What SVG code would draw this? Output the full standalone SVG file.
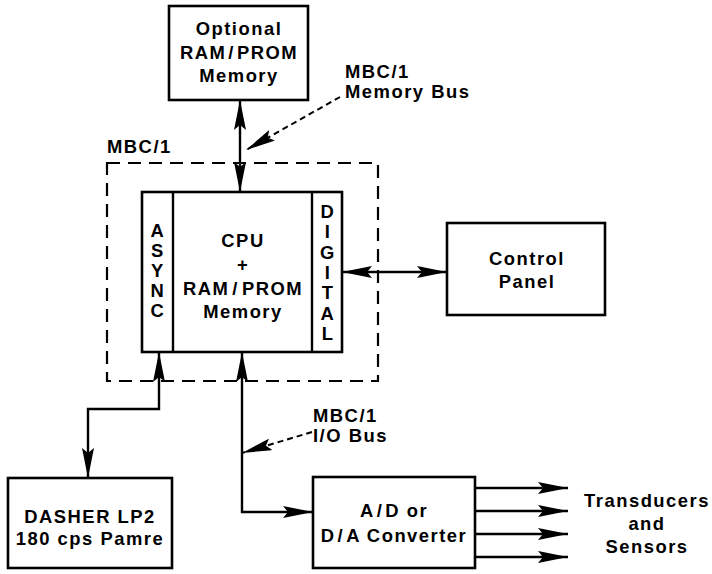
<svg xmlns="http://www.w3.org/2000/svg" width="712" height="574" viewBox="0 0 712 574">
  <style>
    .box { fill: #fff; stroke: #000; stroke-width: 2.6; }
    .frame { fill: none; stroke: #000; stroke-width: 2.2; stroke-dasharray: 13 8; }
    .wire { fill: none; stroke: #000; stroke-width: 2.4; }
    .ptr { fill: none; stroke: #000; stroke-width: 2; stroke-dasharray: 6 4; }
    text { font-family: "Liberation Sans", Arial, sans-serif; font-weight: bold; font-size: 18.4px; letter-spacing: 1.5px; fill: #000; }
    .c { text-anchor: middle; }
  </style>
  <defs>
    <marker id="head" viewBox="0 0 30 12" refX="30" refY="6" markerWidth="30" markerHeight="12" markerUnits="userSpaceOnUse" orient="auto-start-reverse">
      <path d="M0,0 L30,6 L0,12 L5,6 Z" fill="#000"/>
    </marker>
  </defs>

  <!-- MBC/1 board outline -->
  <g id="mbc1">
    <rect class="frame" x="107" y="163" width="271" height="218"/>
    <text x="107" y="153">MBC/1</text>
  </g>

  <g id="optional-memory">
    <rect class="box" x="169" y="6" width="139" height="94"/>
    <text class="c"><tspan x="239" y="35">Optional</tspan><tspan x="239" y="58.5">RAM<tspan dx="2">/</tspan><tspan dx="2">PROM</tspan></tspan><tspan x="239" y="82">Memory</tspan></text>
  </g>

  <g id="cpu">
    <rect class="box" x="142" y="192" width="200" height="160"/>
    <line class="wire" x1="173" y1="192" x2="173" y2="352"/>
    <line class="wire" x1="312" y1="192" x2="312" y2="352"/>
    <text class="c"><tspan x="243" y="247">CPU</tspan><tspan x="243" y="271">+</tspan><tspan x="243" y="295">RAM<tspan dx="3">/</tspan><tspan dx="3">PROM</tspan></tspan><tspan x="243" y="318">Memory</tspan></text>
  </g>

  <g id="async">
    <text class="c"><tspan x="158" y="237">A</tspan><tspan x="158" y="257">S</tspan><tspan x="158" y="277">Y</tspan><tspan x="158" y="297">N</tspan><tspan x="158" y="317">C</tspan></text>
  </g>

  <g id="digital">
    <text class="c"><tspan x="328" y="218">D</tspan><tspan x="328" y="238.3">I</tspan><tspan x="328" y="258.7">G</tspan><tspan x="328" y="279">I</tspan><tspan x="328" y="299.3">T</tspan><tspan x="328" y="319.7">A</tspan><tspan x="328" y="340">L</tspan></text>
  </g>

  <g id="control-panel">
    <rect class="box" x="447" y="223" width="158" height="92"/>
    <text class="c"><tspan x="527" y="265">Control</tspan><tspan x="527" y="288">Panel</tspan></text>
  </g>

  <g id="dasher">
    <rect class="box" x="8" y="478" width="164" height="90"/>
    <text class="c"><tspan x="90" y="523">DASHER LP2</tspan><tspan x="90" y="545">180 cps Pamre</tspan></text>
  </g>

  <g id="converter">
    <rect class="box" x="313" y="477" width="162" height="91"/>
    <text class="c"><tspan x="394" y="517">A<tspan dx="2">/</tspan><tspan dx="2">D or</tspan></tspan><tspan x="394" y="542">D<tspan dx="2">/</tspan><tspan dx="2">A Converter</tspan></tspan></text>
  </g>

  <g id="sensors">
    <text class="c"><tspan x="647" y="507">Transducers</tspan><tspan x="647" y="530">and</tspan><tspan x="647" y="553">Sensors</tspan></text>
  </g>

  <g id="memory-bus-label">
    <text><tspan x="345" y="77.5">MBC/1</tspan><tspan x="345" y="98">Memory Bus</tspan></text>
  </g>

  <g id="io-bus-label">
    <text><tspan x="313" y="422">MBC/1</tspan><tspan x="313" y="442">I/O Bus</tspan></text>
  </g>

  <g id="connectors">
    <!-- memory bus -->
    <line class="wire" x1="240" y1="100" x2="240" y2="192" marker-start="url(#head)" marker-end="url(#head)"/>
    <line class="ptr" x1="340" y1="97" x2="246" y2="150" marker-end="url(#head)"/>
    <!-- digital port to control panel -->
    <line class="wire" x1="342" y1="272" x2="447" y2="272" marker-start="url(#head)" marker-end="url(#head)"/>
    <!-- async port to printer -->
    <polyline class="wire" points="159,352 159,409 88,409 88,478" marker-start="url(#head)" marker-end="url(#head)"/>
    <!-- I/O bus to converter -->
    <polyline class="wire" points="242,352 242,512 313,512" marker-start="url(#head)" marker-end="url(#head)"/>
    <line class="ptr" x1="312" y1="432" x2="242" y2="453" marker-end="url(#head)"/>
    <!-- converter outputs -->
    <line class="wire" x1="475" y1="488" x2="568" y2="488" marker-end="url(#head)"/>
    <line class="wire" x1="475" y1="511" x2="568" y2="511" marker-end="url(#head)"/>
    <line class="wire" x1="475" y1="534" x2="568" y2="534" marker-end="url(#head)"/>
    <line class="wire" x1="475" y1="557" x2="568" y2="557" marker-end="url(#head)"/>
  </g>
</svg>
